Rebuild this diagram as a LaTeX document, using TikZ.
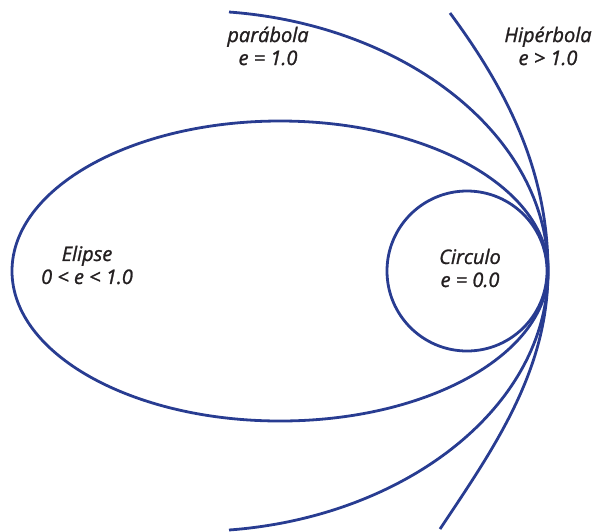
\documentclass[tikz,border=0pt]{standalone}
\usepackage{fontspec}
\setmainfont{Open Sans}[ItalicFeatures={FakeBold=1.2}]
\definecolor{orbitblue}{RGB}{40,60,145}
\definecolor{textgray}{RGB}{35,31,32}
\tikzset{
  orbit/.style={draw=orbitblue, line width=2.8pt},
  lbl/.style={font=\fontsize{20}{23}\selectfont\itshape, text=textgray, align=center, inner sep=0pt}
}
\begin{document}
\begin{tikzpicture}[x=1pt,y=-1pt]
\useasboundingbox (0,0) rectangle (599,531);
% ellipse and circle
\draw[orbit] (280,271) ellipse [x radius=268pt, y radius=150pt];
\draw[orbit] (467,271) circle [radius=80pt];
% parabola
\draw[orbit] (229,12) .. controls (405,25) and (548,135) .. (548,271)
                      .. controls (548,407) and (405,517) .. (229,530);
% hyperbola
\draw[orbit] (450,13) .. controls (507,90) and (548,171) .. (548,271)
                      .. controls (548,371) and (494,448) .. (440,529);
% labels
\node[lbl] (para) at (268,46) {parábola\\e = 1.0};
\node[lbl] (hyp) at (548,46) {Hipérbola\\e > 1.0};
\node[lbl] (circ) at (470,268) {Circulo\\e = 0.0};
\node[lbl] (elip) at (87,265) {Elipse\\0 < e < 1.0};
\end{tikzpicture}
\end{document}
